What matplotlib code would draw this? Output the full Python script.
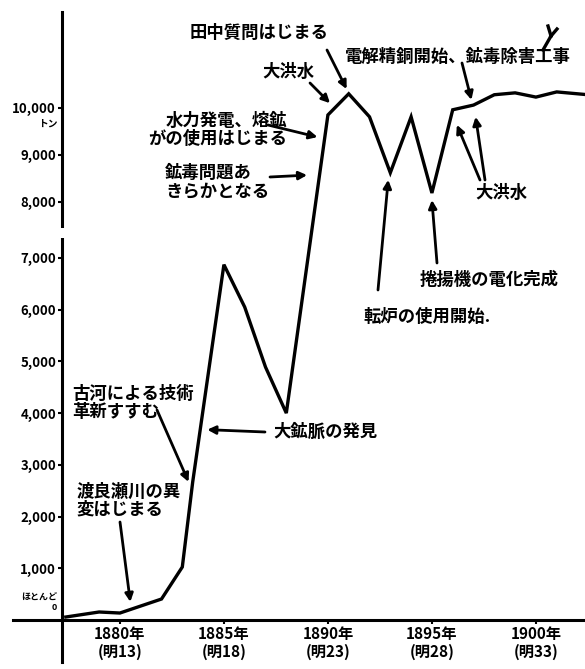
import numpy as np
import matplotlib
matplotlib.use("Agg")
import matplotlib.pyplot as plt
from matplotlib.patches import Rectangle
from matplotlib.lines import Line2D

plt.rcParams['font.family'] = ['Noto Sans CJK JP', 'DejaVu Sans']
plt.rcParams['font.weight'] = 'bold'

# production (year, amount)
years = [1877.4, 1879, 1880, 1882, 1883, 1883.5, 1885, 1886, 1887, 1888,
         1890, 1891, 1892, 1893, 1894, 1895, 1896, 1897, 1898, 1899,
         1900, 1901, 1902.5]
amount = [58, 155, 135, 406, 1025, 2670, 6870, 6050, 4890, 4000,
          9850, 10300, 9810, 8620, 9810, 8190, 9960, 10060, 10280, 10320,
          10230, 10340, 10280]

xtick_years = [1880, 1885, 1890, 1895, 1900]
xtick_labels = ["1880年\n(明13)", "1885年\n(明18)", "1890年\n(明23)",
                "1895年\n(明28)", "1900年\n(明33)"]
ytick_values = [1000, 2000, 3000, 4000, 5000, 6000, 7000, 8000, 9000, 10000]
ytick_labels = ["1,000", "2,000", "3,000", "4,000", "5,000", "6,000",
                "7,000", "8,000", "9,000", "10,000"]

# events: label, arrow target (year, amount)
events = [
    ("田中質問はじまる", (1890.9, 10400)),
    ("大洪水", (1890.1, 10100)),
    ("水力発電、熔鉱\nがの使用はじまる", (1889.5, 9380)),
    ("鉱毒問題あ\nきらかとなる", (1889.0, 8570)),
    ("電解精銅開始、鉱毒除害工事", (1896.9, 10170)),
    ("大洪水", (1896.2, 9640)),
    ("転炉の使用開始.", (1892.9, 8470)),
    ("捲揚機の電化完成", (1895.0, 8040)),
    ("大鉱脈の発見", (1884.2, 3680)),
    ("古河による技術\n革新すすむ", (1883.3, 2670)),
    ("渡良瀬川の異\n変はじまる", (1880.5, 350)),
]

# broken y axis: lower part stretched a little more than the upper part
VB = [-20000, 0, 7000, 8000, 30000]
PB = [-20000 * 0.0517, 0, 362, 418, 418 + 22000 * 0.047]


def fwd(v):
    return np.interp(v, VB, PB)


def inv(p):
    return np.interp(p, PB, VB)


W, H = 585, 669


def fp(x, y):
    # picture pixel (from top-left) -> figure fraction
    return (x / W, 1 - y / H)


fig = plt.figure(figsize=(W / 100, H / 100), dpi=100)
ax = fig.add_axes([13 / W, 7 / H, 572 / W, 650 / H])
ax.set_yscale('function', functions=(fwd, inv))
ax.set_xlim(1874.86, 1902.36)
ax.set_ylim(-812, 12040)

ax.plot(years, amount, color='black', lw=2.4, solid_joinstyle='miter')

for s in ['top', 'right']:
    ax.spines[s].set_visible(False)
ax.spines['left'].set_position(('data', 1877.2))
ax.spines['bottom'].set_position(('data', 0))
ax.spines['left'].set_linewidth(2.2)
ax.spines['bottom'].set_linewidth(2.2)

ax.set_xticks(xtick_years)
ax.set_xticklabels(xtick_labels, fontsize=11, fontweight='bold', linespacing=1.15)
ax.set_yticks(ytick_values)
ax.set_yticklabels(ytick_labels, fontsize=9.5, fontweight='bold')
ax.yaxis.set_minor_locator(plt.NullLocator())
ax.tick_params(axis='both', direction='out', length=3, width=1.5, pad=1)

# gap in the y axis between 7,000 and 8,000
ax.add_patch(Rectangle((1876.9, 7360), 0.6, 180, facecolor='white',
                       edgecolor='none', zorder=5, clip_on=False))

# unit labels
fig.text(*fp(58, 124), "トン", fontsize=7, ha='right', va='center')
fig.text(*fp(57, 603), "ほとんど\n0", fontsize=6.5, ha='right', va='center',
         multialignment='right', linespacing=1.0)

# label placement in the picture (left x, center y) and arrow start
label_pos = [
    (190, 33, 'left'), (262, 72, 'left'), (287, 130, 'right'),
    (165, 182, 'left'), (345, 57, 'left'), (475, 193, 'left'),
    (363, 317, 'left'), (420, 280, 'left'), (273, 432, 'left'),
    (72, 403, 'left'), (77, 501, 'left'),
]
arrow_start = [
    [(327, 50)], [(310, 83)], [(268, 125)], [(270, 177)], [(462, 63)],
    [(480, 180), (485, 180)], [(378, 290)], [(437, 263)], [(265, 432)],
    [(157, 410)], [(120, 522)],
]
extra_target = {5: [(1896.2, 9640), (1897.1, 9810)]}

for i, (label, target) in enumerate(events):
    x, y, ha = label_pos[i]
    fig.text(*fp(x, y), label, fontsize=12.5, fontweight='bold', ha=ha,
             va='center', multialignment=ha, linespacing=1.0)
    targets = extra_target.get(i, [target])
    for st, tg in zip(arrow_start[i], targets):
        ax.annotate('', xy=tg, xytext=fp(*st), textcoords='figure fraction',
                    arrowprops=dict(arrowstyle='-|>', lw=2.0, color='black',
                                    mutation_scale=12, shrinkA=0, shrinkB=0))

# small mark at top right of the scan
for (x0, y0), (x1, y1) in [((543, 50), (551, 36)), ((551, 36), (548, 26)),
                           ((551, 36), (557, 29))]:
    a, b = fp(x0, y0), fp(x1, y1)
    fig.add_artist(Line2D([a[0], b[0]], [a[1], b[1]], color='black', lw=2.4))

fig.savefig('out.png', dpi=100)
